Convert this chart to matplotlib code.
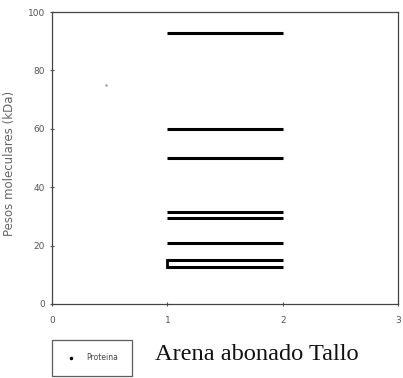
import matplotlib
matplotlib.use("Agg")
import matplotlib.pyplot as plt
from matplotlib.lines import Line2D

# Molecular weight bands (kDa) detected in the sample, drawn across lane 1..2
band_weights = [93, 60, 50, 31.5, 29.3, 21, 15, 12.5]
lane_start = 1
lane_end = 2
# pair of bands joined at the lane start
joined_pair = [15, 12.5]
# isolated reading
stray_x = [0.47]
stray_y = [75]

x_ticks = [0, 1, 2, 3]
y_ticks = [0, 20, 40, 60, 80, 100]

fig = plt.figure(figsize=(4.03, 3.78), dpi=100)
ax = fig.add_axes([0.129, 0.196, 0.859, 0.772])

for w in band_weights:
    ax.plot([lane_start, lane_end], [w, w], color="black", lw=2.2,
            solid_capstyle="butt")
ax.plot([lane_start, lane_start], joined_pair, color="black", lw=2.0)
ax.plot(stray_x, stray_y, ".", color="#999999", ms=1.5)

ax.set_xlim(0, 3)
ax.set_ylim(0, 100)
ax.set_xticks(x_ticks)
ax.set_yticks(y_ticks)
ax.tick_params(labelsize=6.5, labelcolor="#555555", color="#555555",
               length=3, width=0.8, direction="inout")
ax.tick_params(axis="x", pad=7)
for sp in ax.spines.values():
    sp.set_color("#444444")
    sp.set_linewidth(0.9)

ax.set_ylabel("Pesos moleculares (kDa)", fontsize=8.5, color="#666666",
              labelpad=3)
ax.yaxis.set_label_coords(-0.105, 0.48)

handle = Line2D([], [], color="black", marker=".", ms=3, ls="none")
leg = fig.legend([handle], ["Proteina"], loc="lower left",
                 bbox_to_anchor=(48 / 403, -2 / 378), fontsize=5.5,
                 frameon=True, fancybox=False, edgecolor="#333333",
                 borderpad=1.8, handletextpad=1.2, handlelength=1.5)
for t in leg.get_texts():
    t.set_color("#444444")
leg.get_frame().set_linewidth(0.9)

fig.text(155 / 403, 1 - 355 / 378, "Arena abonado Tallo",
         family="Liberation Serif", fontsize=17.6, color="#111111",
         ha="left", va="center")

fig.savefig("out.png", dpi=100)
